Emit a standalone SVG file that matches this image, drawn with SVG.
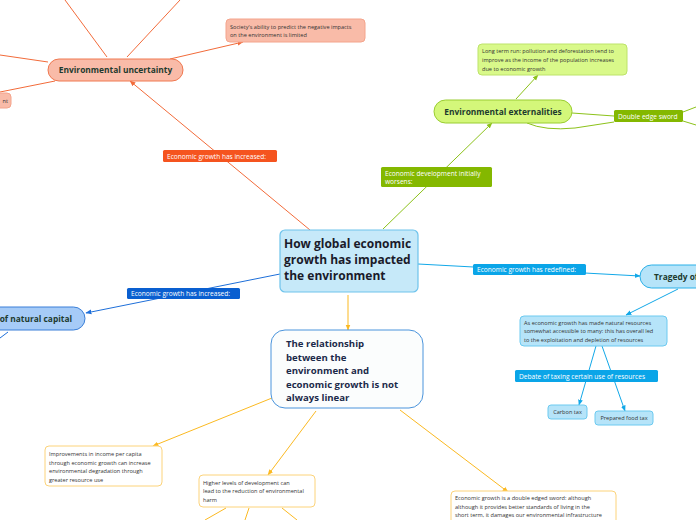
<svg xmlns="http://www.w3.org/2000/svg" width="696" height="520" viewBox="0 0 696 520">
<style>
text{font-family:"Open Sans","Noto Sans","Liberation Sans",sans-serif}
.s{font-size:5.6px;fill:#333}
.b{font-weight:bold;fill:#1d3a2e;font-size:8.4px}
.lbl{font-size:6.6px;fill:#ffffff}
.co{stroke:#f26b3a;fill:none;stroke-width:1}
.cg{stroke:#8cc21a;fill:none;stroke-width:1}
.cb{stroke:#1e6fd9;fill:none;stroke-width:1}
.cl{stroke:#12a8e8;fill:none;stroke-width:1}
.cy{stroke:#fbb921;fill:none;stroke-width:1}
</style>
<defs>
<marker id="ao" viewBox="0 0 10 10" refX="9" refY="5" markerWidth="6" markerHeight="6" orient="auto"><path d="M0,1 L10,5 L0,9 z" fill="#f26b3a"/></marker>
<marker id="ag" viewBox="0 0 10 10" refX="9" refY="5" markerWidth="6" markerHeight="6" orient="auto"><path d="M0,1 L10,5 L0,9 z" fill="#8cc21a"/></marker>
<marker id="ab" viewBox="0 0 10 10" refX="9" refY="5" markerWidth="6" markerHeight="6" orient="auto"><path d="M0,1 L10,5 L0,9 z" fill="#1e6fd9"/></marker>
<marker id="al" viewBox="0 0 10 10" refX="9" refY="5" markerWidth="6" markerHeight="6" orient="auto"><path d="M0,1 L10,5 L0,9 z" fill="#12a8e8"/></marker>
<marker id="ay" viewBox="0 0 10 10" refX="9" refY="5" markerWidth="6" markerHeight="6" orient="auto"><path d="M0,1 L10,5 L0,9 z" fill="#fbb921"/></marker>
</defs>
<rect width="696" height="520" fill="#ffffff"/>

<g id="connectors">
<line class="co" x1="107" y1="57" x2="65" y2="0"/>
<line class="co" x1="127" y1="57" x2="180" y2="0"/>
<line class="co" x1="48" y1="62" x2="0" y2="55"/>
<line class="co" x1="55" y1="81" x2="0" y2="92"/>
<line class="co" x1="170" y1="59" x2="243" y2="42" marker-end="url(#ao)"/>
<line class="co" x1="310" y1="230" x2="130" y2="81" marker-end="url(#ao)"/>
<line class="cg" x1="383" y1="229" x2="492" y2="123" marker-end="url(#ag)"/>
<line class="cg" x1="516" y1="99" x2="538" y2="75" marker-end="url(#ag)"/>
<path class="cg" d="M572,113 L614,116"/>
<path class="cg" d="M527,123 Q545,131 575,128 L614,122"/>
<line class="cg" x1="683" y1="112" x2="696" y2="107"/>
<line class="cg" x1="683" y1="121" x2="696" y2="125"/>
<line class="cb" x1="280" y1="274" x2="86" y2="313" marker-end="url(#ab)"/>
<line class="cb" x1="8" y1="332" x2="0" y2="338"/>
<line class="cl" x1="418" y1="264" x2="640" y2="276" marker-end="url(#al)"/>
<line class="cl" x1="678" y1="289" x2="626" y2="315" marker-end="url(#al)"/>
<line class="cl" x1="596" y1="346" x2="579" y2="405" marker-end="url(#al)"/>
<line class="cl" x1="602" y1="346" x2="625" y2="411" marker-end="url(#al)"/>
<line class="cy" x1="348" y1="295" x2="348" y2="330" marker-end="url(#ay)"/>
<line class="cy" x1="272" y1="398" x2="153" y2="446" marker-end="url(#ay)"/>
<line class="cy" x1="316" y1="411" x2="268" y2="475" marker-end="url(#ay)"/>
<line class="cy" x1="400" y1="410" x2="508" y2="492" marker-end="url(#ay)"/>
<line class="cy" x1="226" y1="508" x2="205" y2="520"/>
<line class="cy" x1="249" y1="508" x2="245" y2="520"/>
<line class="cy" x1="282" y1="508" x2="297" y2="520"/>
</g>

<g id="lbl-orange">
<rect x="163" y="150" width="114" height="12" rx="1.5" fill="#f5541f"/>
<text class="lbl" x="167" y="158.5">Economic growth has increased:</text>
</g>
<g id="lbl-green">
<rect x="381" y="167" width="111" height="20" rx="1.5" fill="#84b800"/>
<text class="lbl" x="385" y="175.5"> Economic development initially</text>
<text class="lbl" x="385" y="184">worsens:</text>
</g>
<g id="lbl-blue">
<rect x="127" y="288" width="113" height="11" rx="1.5" fill="#0a5fd0"/>
<text class="lbl" x="131" y="296">Economic growth has increased:</text>
</g>
<g id="lbl-lightblue">
<rect x="473" y="264" width="113" height="11" rx="1.5" fill="#0aa5e8"/>
<text class="lbl" x="477" y="272">Economic growth has redefined:</text>
</g>
<g id="lbl-sword">
<rect x="614" y="110" width="69" height="12" rx="1.5" fill="#84b800"/>
<text class="lbl" x="618" y="118.5">Double edge sword</text>
</g>
<g id="lbl-debate">
<rect x="515" y="370" width="143" height="12" rx="1.5" fill="#0aa5e8"/>
<text class="lbl" x="519" y="378.5">Debate of taxing certain use of resources</text>
</g>

<g id="central">
<rect x="280" y="230" width="138" height="62" rx="5" fill="#c6e9f9" stroke="#6ec3ec" stroke-width="1.2"/>
<text x="284" y="248" font-size="12" font-weight="bold" fill="#1a1a2a">How global economic</text>
<text x="284" y="264" font-size="12" font-weight="bold" fill="#1a1a2a">growth has impacted</text>
<text x="284" y="280" font-size="12" font-weight="bold" fill="#1a1a2a">the environment</text>
</g>

<g id="env-uncertainty">
<rect x="48" y="59" width="135" height="22" rx="11" fill="#f9bba8" stroke="#f07850"/>
<text class="b" x="115.5" y="73" text-anchor="middle">Environmental uncertainty</text>
</g>
<g id="society">
<rect x="226" y="19" width="139" height="23" rx="4" fill="#f9bba8" stroke="#f4a48c"/>
<text class="s" x="230" y="28.5">Society's ability to predict the negative impacts</text>
<text class="s" x="230" y="37">on the environment is limited</text>
</g>
<g id="nt-node">
<rect x="-20" y="93" width="31" height="15" rx="4" fill="#f9bba8" stroke="#f4a48c"/>
<text class="s" x="8" y="102.5" text-anchor="end">nt</text>
</g>

<g id="env-externalities">
<rect x="434" y="100" width="138" height="23" rx="11.5" fill="#d4f77a" stroke="#9acd32"/>
<text class="b" x="503" y="114.5" text-anchor="middle">Environmental externalities</text>
</g>
<g id="long-term">
<rect x="478" y="44" width="149" height="31" rx="4" fill="#d9f98a" stroke="#bde36a"/>
<text class="s" x="482" y="53">Long term run: pollution and deforestation tend to</text>
<text class="s" x="482" y="62">improve as the income of the population increases</text>
<text class="s" x="482" y="71">due to economic growth</text>
</g>

<g id="natural-capital">
<rect x="-30" y="307" width="115" height="23" rx="11.5" fill="#a6cbf7" stroke="#3a7fd8"/>
<text class="b" x="72" y="322" text-anchor="end">of natural capital</text>
</g>

<g id="tragedy">
<rect x="640" y="265" width="80" height="23" rx="11.5" fill="#b6e4f9" stroke="#2ab0e8"/>
<text class="b" x="654" y="280">Tragedy of</text>
</g>
<g id="resources">
<rect x="520" y="316" width="147" height="30" rx="4" fill="#b6e4f9" stroke="#6ccaf0"/>
<text class="s" x="524" y="324.5">As economic growth has made natural resources</text>
<text class="s" x="524" y="333">somewhat accessible to many: this has overall led</text>
<text class="s" x="524" y="341.5">to the exploitation and depletion of resources</text>
</g>
<g id="carbon-tax">
<rect x="548" y="405" width="39" height="14" rx="3" fill="#b6e4f9" stroke="#6ccaf0"/>
<text class="s" x="567.5" y="414" text-anchor="middle">Carbon tax</text>
</g>
<g id="food-tax">
<rect x="595" y="411" width="58" height="14" rx="3" fill="#b6e4f9" stroke="#6ccaf0"/>
<text class="s" x="624" y="420" text-anchor="middle">Prepared food tax</text>
</g>

<g id="relationship">
<rect x="271" y="330" width="152" height="78" rx="14" fill="#fbfdfd" stroke="#4a94dc" stroke-width="1"/>
<text x="286" y="347" font-size="9.6" font-weight="bold" fill="#1c2a4a">The relationship</text>
<text x="286" y="360.5" font-size="9.6" font-weight="bold" fill="#1c2a4a">between the</text>
<text x="286" y="374" font-size="9.6" font-weight="bold" fill="#1c2a4a">environment and</text>
<text x="286" y="387.5" font-size="9.6" font-weight="bold" fill="#1c2a4a">economic growth is not</text>
<text x="286" y="401" font-size="9.6" font-weight="bold" fill="#1c2a4a">always linear</text>
</g>
<g id="improvements">
<rect x="45" y="446" width="117" height="40" rx="4" fill="#ffffff" stroke="#fcd37a"/>
<text class="s" x="49" y="456">Improvements in income per capita</text>
<text class="s" x="49" y="464.5">through economic growth can increase</text>
<text class="s" x="49" y="473">environmental degradation through</text>
<text class="s" x="49" y="481.5">greater resource use</text>
</g>
<g id="higher-levels">
<rect x="199" y="475" width="116" height="32" rx="4" fill="#ffffff" stroke="#fcd37a"/>
<text class="s" x="203" y="484.5">Higher levels of development can</text>
<text class="s" x="203" y="493">lead to the reduction of environmental</text>
<text class="s" x="203" y="501.5">harm</text>
</g>
<g id="double-edged">
<rect x="451" y="491" width="165" height="36" rx="4" fill="#ffffff" stroke="#fcd37a"/>
<text class="s" x="455" y="500">Economic growth is a double edged sword: although</text>
<text class="s" x="455" y="508.5">although it provides better standards of living in the</text>
<text class="s" x="455" y="517">short term, it damages our environmental infrastructure</text>
</g>
</svg>
